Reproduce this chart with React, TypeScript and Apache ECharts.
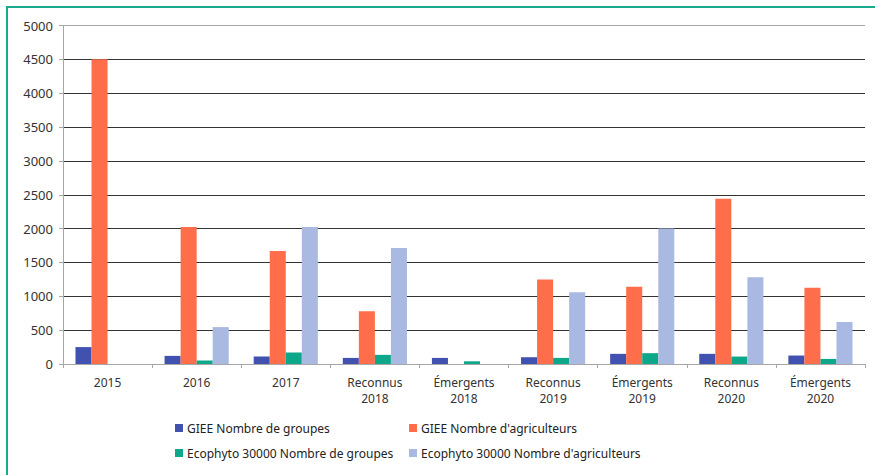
import React, { useEffect, useRef } from "react";
import * as echarts from "echarts";

const categories = [
  "2015",
  "2016",
  "2017",
  "Reconnus\n2018",
  "Émergents\n2018",
  "Reconnus\n2019",
  "Émergents\n2019",
  "Reconnus\n2020",
  "Émergents\n2020",
];

const seriesNames = [
  "GIEE Nombre de groupes",
  "GIEE Nombre d'agriculteurs",
  "Ecophyto 30000 Nombre de groupes",
  "Ecophyto 30000 Nombre d'agriculteurs",
];

const gieeGroupes = [250, 120, 110, 90, 90, 100, 150, 150, 125];
const gieeAgriculteurs = [4500, 2025, 1670, 780, 0, 1250, 1140, 2440, 1125];
const ecophytoGroupes = [0, 50, 170, 135, 40, 90, 160, 110, 75];
const ecophytoAgriculteurs = [0, 545, 2025, 1715, 0, 1060, 2000, 1280, 620];

const colors = ["#4051B0", "#FF6E4B", "#0DA88A", "#AAB9E1"];

const FONT = "Noto Sans";

export default function App() {
  const ref = useRef<HTMLDivElement>(null);

  useEffect(() => {
    if (!ref.current) return;
    const chart = echarts.init(ref.current, null, { renderer: "svg" });
    const values = [gieeGroupes, gieeAgriculteurs, ecophytoGroupes, ecophytoAgriculteurs];
    const legendPos = [
      { left: 175, top: 422 },
      { left: 409, top: 422 },
      { left: 175, top: 447 },
      { left: 409, top: 447 },
    ];
    const option: any = {
      animation: false,
      backgroundColor: "#ffffff",
      textStyle: { fontFamily: FONT },
      grid: { left: 63, right: 10, top: 25.5, bottom: 111, containLabel: false },
      legend: seriesNames.map((n, i) => ({
        data: [n],
        left: legendPos[i].left,
        top: legendPos[i].top,
        itemWidth: 8,
        itemHeight: 8,
        itemGap: 0,
        padding: 0,
        icon: "rect",
        textStyle: { fontFamily: FONT, fontSize: 12, color: "#222", padding: [0, 0, 0, -1] },
      })),
      xAxis: {
        type: "category",
        data: categories,
        axisLine: { lineStyle: { color: "#a6a6a6", width: 1 } },
        axisTick: { show: true, length: 4, lineStyle: { color: "#a6a6a6" } },
        axisLabel: {
          fontFamily: FONT,
          fontSize: 12,
          color: "#333",
          margin: 10,
          lineHeight: 16,
          interval: 0,
        },
      },
      yAxis: {
        type: "value",
        min: 0,
        max: 5000,
        interval: 500,
        axisLine: { show: true, lineStyle: { color: "#a6a6a6" } },
        axisTick: { show: true, length: 4, lineStyle: { color: "#a6a6a6" } },
        axisLabel: {
          fontFamily: FONT,
          fontSize: 13,
          color: "#333",
          margin: 10,
          formatter: (v: number) => String(v),
        },
        splitLine: {
          show: true,
          lineStyle: {
            color: [
              "#a6a6a6",
              "#333333",
              "#333333",
              "#333333",
              "#333333",
              "#333333",
              "#333333",
              "#333333",
              "#333333",
              "#333333",
              "#a6a6a6",
            ],
            width: 1,
          },
        },
      },
      graphic: [
        {
          type: "rect",
          shape: { x: 7, y: 7, width: 920, height: 520 },
          style: { fill: "none", stroke: "#1BAA8C", lineWidth: 2 },
          silent: true,
        },
      ],
      series: seriesNames.map((n, i) => ({
        name: n,
        type: "bar",
        data: values[i],
        barGap: "0%",
        barCategoryGap: "28%",
        itemStyle: { color: colors[i] },
      })),
    };
    chart.setOption(option);
    return () => chart.dispose();
  }, []);

  return (
    <div
      ref={ref}
      style={{ position: "absolute", left: 0, top: 0, width: 875, height: 475 }}
    />
  );
}
